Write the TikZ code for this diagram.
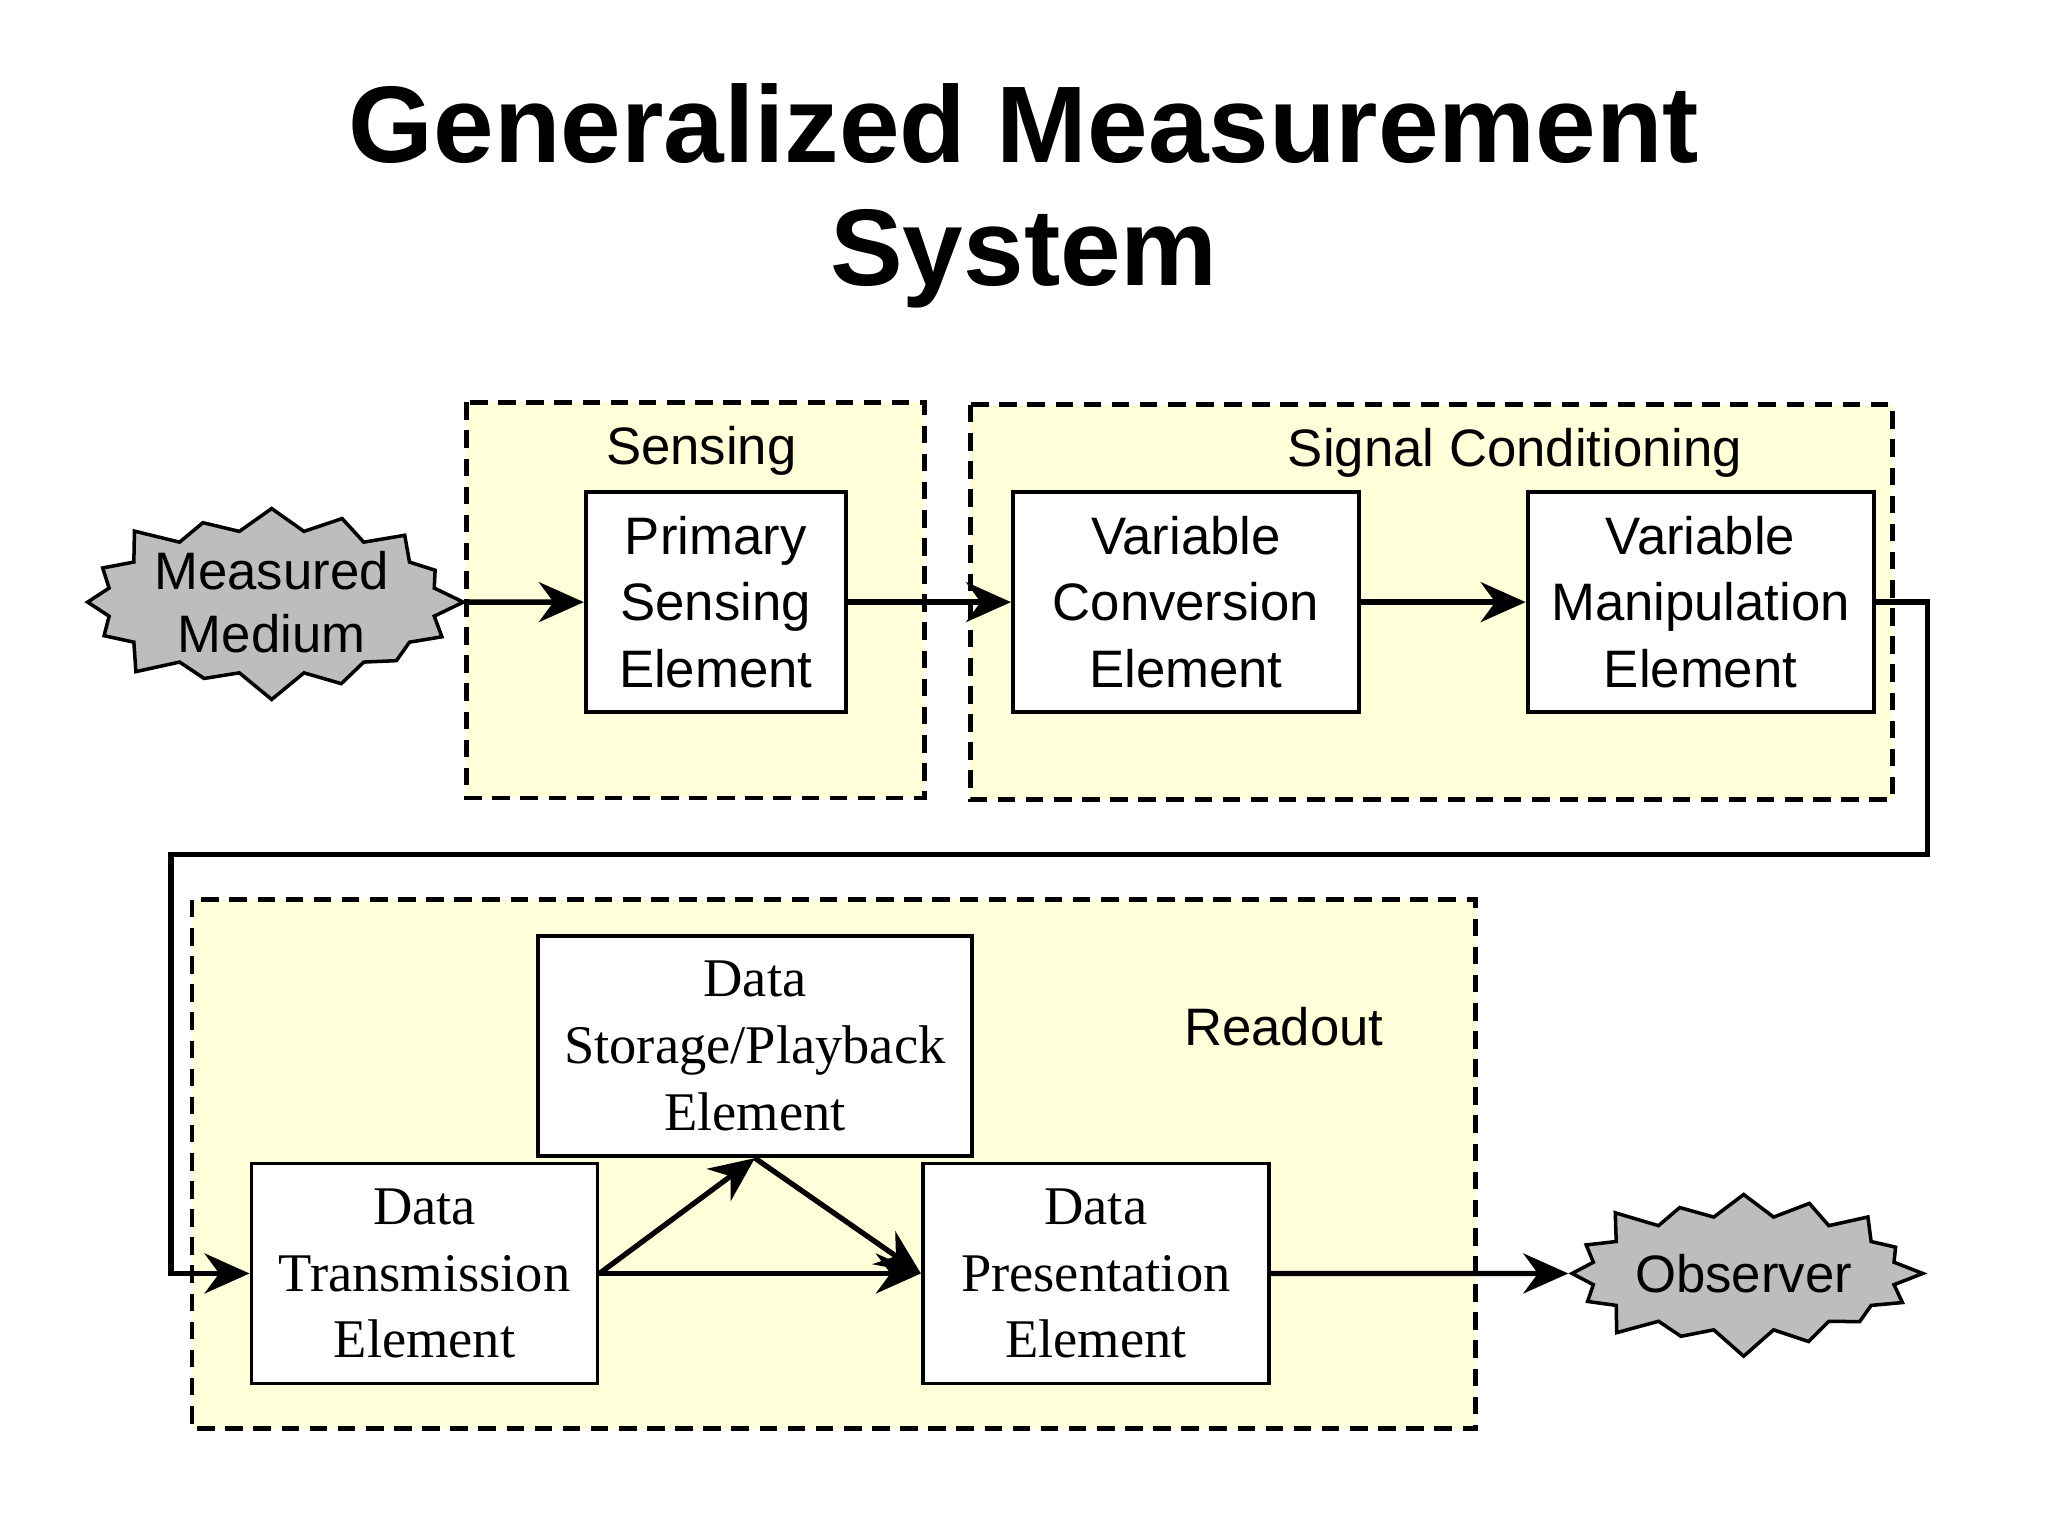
\documentclass[tikz,border=0pt]{standalone}
\usepackage{fontspec}
\setmainfont{Liberation Sans}
\newfontfamily\dataserif{Liberation Serif}
\usetikzlibrary{shapes.symbols, arrows.meta, positioning}
\definecolor{paleyellow}{HTML}{FFFFD9}
\definecolor{burstgray}{HTML}{BDBDBD}
\tikzstyle{stage} = [draw, dash pattern=on 5pt off 3pt, line width=1.4pt, fill=paleyellow]
\tikzstyle{block} = [rectangle, draw, line width=1.1pt, fill=white, align=center,
    font=\fontsize{15}{19}\selectfont, inner sep=0pt]
\tikzstyle{serifblock} = [block, font=\dataserif\fontsize{15.5}{19}\selectfont]
\tikzstyle{burst} = [starburst, starburst points=16, starburst point height=0.3cm,
    draw, line width=1pt, fill=burstgray, align=center, font=\fontsize{15}{18}\selectfont,
    minimum width=2.0cm, minimum height=1.75cm, inner sep=0pt]
\tikzstyle{line} = [draw, line width=1.5pt, -{Stealth[length=0.45cm, width=0.4cm]}]
\tikzstyle{caption} = [font=\fontsize{15}{19}\selectfont]
\begin{document}
\begin{tikzpicture}[x=0.013061cm, y=-0.013061cm]
      \useasboundingbox (0,0) rectangle (1568,1176);
      % Title
      \node [font=\bfseries\fontsize{31}{38}\selectfont, align=center] (title) at (784,150)
        {Generalized Measurement\\[-0.1cm]System};
      % Stages
      \draw [stage] (357,308) rectangle (708,611);
      \draw [stage] (743,310) rectangle (1449,612);
      \draw [stage] (147,689) rectangle (1130,1094);
      \node [caption] (sensing) at (537,345) {Sensing};
      \node [caption] (conditioning) at (1160,347) {Signal Conditioning};
      \node [caption] (readout) at (983,786) {Readout};
      % Elements
      \node [burst] (medium) at (208,461) {Measured\\Medium};
      \node [block, minimum width=2.6cm, minimum height=2.2cm] (primary) at (548,461) {Primary\\Sensing\\Element};
      \node [block, minimum width=3.46cm, minimum height=2.2cm] (conversion) at (908,461) {Variable\\Conversion\\Element};
      \node [block, minimum width=3.46cm, minimum height=2.2cm] (manipulation) at (1302,461) {Variable\\Manipulation\\Element};
      \node [serifblock, minimum width=4.34cm, minimum height=2.2cm] (storage) at (578,801) {Data\\Storage/Playback\\Element};
      \node [serifblock, minimum width=3.46cm, minimum height=2.2cm] (transmission) at (325,975) {Data\\Transmission\\Element};
      \node [serifblock, minimum width=3.46cm, minimum height=2.2cm] (presentation) at (839,975) {Data\\Presentation\\Element};
      \node [burst] (observer) at (1335,975) {Observer};
      \coordinate (turnA) at (1476,654);
      \coordinate (turnB) at (131,654);
      % Draw edges
      \path [line] (medium) -- (primary);
      \path [line] (primary) -- (conversion);
      \path [line] (conversion) -- (manipulation);
      \path [line] (manipulation.east) -| (turnA) -- (turnB) |- (transmission.west);
      \path [line] (transmission) -- (presentation);
      \path [line] (transmission.east) -- (storage.south);
      \path [line] (storage.south) -- (presentation.west);
      \path [line] (presentation) -- (observer);
\end{tikzpicture}
\end{document}
